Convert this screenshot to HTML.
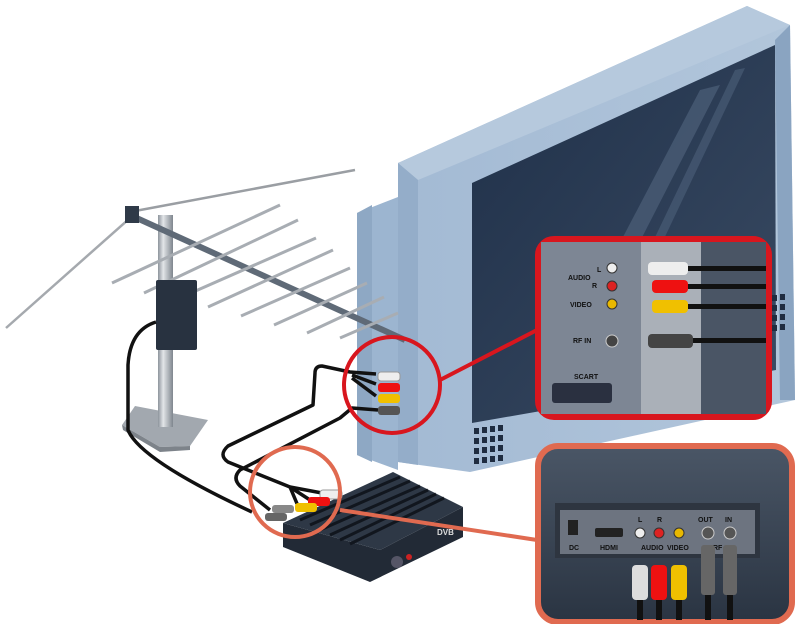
<!DOCTYPE html>
<html><head><meta charset="utf-8"><style>
html,body{margin:0;padding:0;background:#fff;width:800px;height:624px;overflow:hidden}
svg{display:block}
text{font-family:"Liberation Sans",sans-serif;font-weight:bold}
</style></head><body>
<svg width="800" height="624" viewBox="0 0 800 624" xmlns="http://www.w3.org/2000/svg">
<defs>
<linearGradient id="scr" x1="0" y1="0" x2="1" y2="1"><stop offset="0" stop-color="#1f3049"/><stop offset="1" stop-color="#3a4b63"/></linearGradient>
<linearGradient id="bez" x1="0" y1="0" x2="1" y2="0"><stop offset="0" stop-color="#a3bad4"/><stop offset="1" stop-color="#b2c6db"/></linearGradient>
<linearGradient id="bx" x1="0" y1="0" x2="0" y2="1"><stop offset="0" stop-color="#4a5666"/><stop offset="1" stop-color="#2a3442"/></linearGradient>
<linearGradient id="mast" x1="0" y1="0" x2="1" y2="0"><stop offset="0" stop-color="#8d949c"/><stop offset=".35" stop-color="#e2e5e8"/><stop offset="1" stop-color="#7f868e"/></linearGradient>
</defs>
<polygon points="357,213 398,197 398,470 357,455" fill="#9cb5d0"/>
<polygon points="357,213 372,205 372,462 357,455" fill="#8ea8c4"/>
<polygon points="398,163 747,6 790,25 795,400 470,472 398,462" fill="url(#bez)"/>
<polygon points="398,163 747,6 790,25 418,180" fill="#b6c9dd"/>
<polygon points="398,163 418,180 418,465 398,462" fill="#94adc9"/>
<polygon points="775,40 790,25 795,400 780,400" fill="#8aa4c1"/>
<polygon points="472,183 775,45 776,370 472,423" fill="url(#scr)"/>
<polygon points="590,300 700,90 720,85 610,300" fill="#4d6079" opacity=".7"/>
<polygon points="625,300 735,70 745,68 635,300" fill="#4d6079" opacity=".6"/>
<g fill="#1f2c40">
<rect x="474" y="428" width="5" height="6"/><rect x="482" y="427" width="5" height="6"/><rect x="490" y="426" width="5" height="6"/><rect x="498" y="425" width="5" height="6"/>
<rect x="474" y="438" width="5" height="6"/><rect x="482" y="437" width="5" height="6"/><rect x="490" y="436" width="5" height="6"/><rect x="498" y="435" width="5" height="6"/>
<rect x="474" y="448" width="5" height="6"/><rect x="482" y="447" width="5" height="6"/><rect x="490" y="446" width="5" height="6"/><rect x="498" y="445" width="5" height="6"/>
<rect x="474" y="458" width="5" height="6"/><rect x="482" y="457" width="5" height="6"/><rect x="490" y="456" width="5" height="6"/><rect x="498" y="455" width="5" height="6"/>
<rect x="772" y="295" width="5" height="6"/><rect x="780" y="294" width="5" height="6"/>
<rect x="772" y="305" width="5" height="6"/><rect x="780" y="304" width="5" height="6"/>
<rect x="772" y="315" width="5" height="6"/><rect x="780" y="314" width="5" height="6"/>
<rect x="772" y="325" width="5" height="6"/><rect x="780" y="324" width="5" height="6"/>
</g>
<polygon points="122,425 135,406 208,420 190,446 160,447" fill="#a2a8af"/>
<polygon points="122,425 160,447 190,446 190,450 160,452 123,430" fill="#7d838a"/>
<rect x="158" y="215" width="15" height="212" fill="url(#mast)"/>
<line x1="130" y1="215" x2="405" y2="340" stroke="#5f6a77" stroke-width="6"/>
<line x1="135" y1="211" x2="355" y2="170" stroke="#9a9ea3" stroke-width="2.5"/>
<line x1="6" y1="328" x2="130" y2="218" stroke="#a5a9ae" stroke-width="2.5"/>
<rect x="125" y="206" width="14" height="17" fill="#2f3a48"/>
<g stroke="#a8adb3" stroke-width="3">
<line x1="112" y1="283" x2="280" y2="205"/><line x1="144" y1="293" x2="298" y2="220"/>
<line x1="175" y1="300" x2="316" y2="238"/><line x1="208" y1="307" x2="333" y2="250"/>
<line x1="241" y1="316" x2="350" y2="268"/><line x1="274" y1="325" x2="367" y2="283"/>
<line x1="307" y1="333" x2="384" y2="297"/><line x1="340" y1="338" x2="398" y2="313"/>
</g>
<rect x="156" y="280" width="41" height="70" rx="2" fill="#283240"/>
<g fill="none" stroke="#111" stroke-width="3.5" stroke-linejoin="round">
<path d="M156,322 Q130,330 128,365 L128,430 Q140,460 252,512"/>
<path d="M376,374 L350,372 L322,366 Q315,366 315,373 L313,405 L228,446 Q218,455 228,462 L290,487"/>
<path d="M376,384 L352,375"/><path d="M376,396 L352,378"/>
<path d="M290,487 L322,493"/><path d="M290,487 L310,500"/><path d="M290,487 L298,506"/>
<path d="M378,410 L352,408 L340,418 L240,470 Q232,478 240,486 L270,510"/>
</g>
<rect x="378" y="372" width="22" height="9" rx="3" fill="#eee" stroke="#999"/>
<rect x="378" y="383" width="22" height="9" rx="3" fill="#e11"/>
<rect x="378" y="394" width="22" height="9" rx="3" fill="#f0c000"/>
<rect x="378" y="406" width="22" height="9" rx="3" fill="#555"/>
<polygon points="283,523 283,547 370,582 463,537 463,507 380,550" fill="#222a36"/>
<polygon points="283,523 393,472 463,507 380,550" fill="#2e3846"/>
<g stroke="#11161e" stroke-width="3">
<line x1="300" y1="520" x2="400" y2="477"/><line x1="310" y1="525" x2="410" y2="481"/>
<line x1="320" y1="530" x2="420" y2="486"/><line x1="330" y1="535" x2="428" y2="490"/>
<line x1="340" y1="540" x2="436" y2="494"/><line x1="350" y1="544" x2="444" y2="498"/>
</g>
<circle cx="397" cy="562" r="6" fill="#556"/><circle cx="409" cy="557" r="3" fill="#c22"/>
<text x="437" y="535" font-size="8" fill="#ddd">DVB</text>
<rect x="320" y="490" width="22" height="9" rx="3" fill="#eee" stroke="#999"/>
<rect x="308" y="497" width="22" height="9" rx="3" fill="#e11"/>
<rect x="295" y="503" width="22" height="9" rx="3" fill="#f0c000"/>
<rect x="272" y="505" width="22" height="8" rx="3" fill="#888"/>
<rect x="265" y="513" width="22" height="8" rx="3" fill="#666"/>
<circle cx="392" cy="385" r="48" fill="none" stroke="#d8161e" stroke-width="4"/>
<line x1="440" y1="380" x2="537" y2="330" stroke="#d8161e" stroke-width="4"/>
<circle cx="295" cy="492" r="45" fill="none" stroke="#e06a50" stroke-width="4"/>
<line x1="340" y1="510" x2="537" y2="540" stroke="#e06a50" stroke-width="4"/>
<rect x="538" y="239" width="231" height="178" rx="16" fill="#5a6372" stroke="#d8161e" stroke-width="6"/>
<rect x="541" y="242" width="100" height="172" fill="#7d8694"/>
<rect x="641" y="242" width="60" height="172" fill="#aab0b8"/>
<rect x="701" y="242" width="65" height="172" fill="#4a5565"/>
<g font-size="7" fill="#111">
<text x="597" y="272">L</text><text x="568" y="280">AUDIO</text><text x="592" y="288">R</text>
<text x="570" y="307">VIDEO</text><text x="573" y="343">RF IN</text><text x="574" y="379">SCART</text>
</g>
<circle cx="612" cy="268" r="5" fill="#eee" stroke="#333"/>
<circle cx="612" cy="286" r="5" fill="#d22" stroke="#333"/>
<circle cx="612" cy="304" r="5" fill="#e8b800" stroke="#333"/>
<circle cx="612" cy="341" r="6" fill="#444" stroke="#ccc"/>
<rect x="552" y="383" width="60" height="20" rx="3" fill="#2a3040"/>
<rect x="648" y="262" width="40" height="13" rx="4" fill="#eee"/><rect x="688" y="266" width="78" height="5" fill="#111"/>
<rect x="652" y="280" width="36" height="13" rx="4" fill="#e11"/><rect x="688" y="284" width="78" height="5" fill="#111"/>
<rect x="652" y="300" width="36" height="13" rx="4" fill="#f0c000"/><rect x="688" y="304" width="78" height="5" fill="#111"/>
<rect x="648" y="334" width="45" height="14" rx="4" fill="#444"/><rect x="693" y="338" width="73" height="5" fill="#111"/>
<rect x="538" y="446" width="254" height="176" rx="20" fill="url(#bx)" stroke="#e06a50" stroke-width="6"/>
<rect x="555" y="503" width="205" height="55" fill="#2e3540"/>
<rect x="560" y="510" width="195" height="44" fill="#6d7480"/>
<rect x="568" y="520" width="10" height="15" fill="#222"/>
<rect x="595" y="528" width="28" height="9" rx="2" fill="#222"/>
<g font-size="7" fill="#111">
<text x="569" y="550">DC</text><text x="600" y="550">HDMI</text><text x="638" y="522">L</text><text x="657" y="522">R</text>
<text x="641" y="550">AUDIO</text><text x="667" y="550">VIDEO</text><text x="698" y="522">OUT</text><text x="725" y="522">IN</text><text x="713" y="550">RF</text>
</g>
<circle cx="640" cy="533" r="5" fill="#eee" stroke="#333"/>
<circle cx="659" cy="533" r="5" fill="#d22" stroke="#333"/>
<circle cx="679" cy="533" r="5" fill="#e8b800" stroke="#333"/>
<circle cx="708" cy="533" r="6" fill="#555" stroke="#ccc"/>
<circle cx="730" cy="533" r="6" fill="#555" stroke="#ccc"/>
<rect x="632" y="565" width="16" height="35" rx="4" fill="#ddd"/><rect x="637" y="600" width="6" height="20" fill="#111"/>
<rect x="651" y="565" width="16" height="35" rx="4" fill="#e11"/><rect x="656" y="600" width="6" height="20" fill="#111"/>
<rect x="671" y="565" width="16" height="35" rx="4" fill="#f0c000"/><rect x="676" y="600" width="6" height="20" fill="#111"/>
<rect x="701" y="545" width="14" height="50" rx="3" fill="#666"/><rect x="705" y="595" width="6" height="25" fill="#111"/>
<rect x="723" y="545" width="14" height="50" rx="3" fill="#666"/><rect x="727" y="595" width="6" height="25" fill="#111"/>
</svg>
</body></html>
